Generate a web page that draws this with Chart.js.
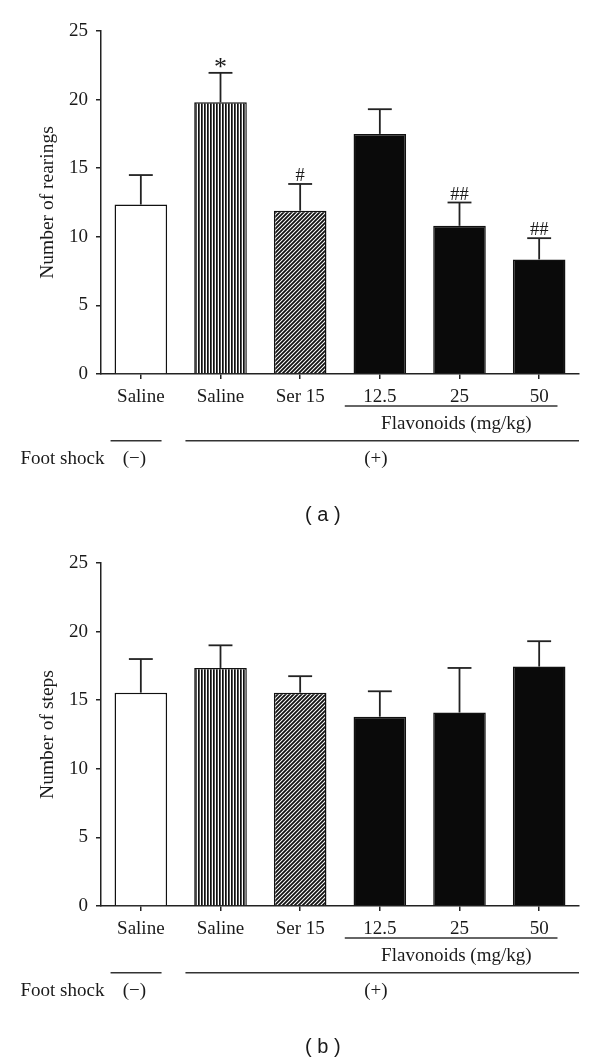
<!DOCTYPE html>
<html>
<head>
<meta charset="utf-8">
<script src="https://cdn.jsdelivr.net/npm/chart.js@4.4.0/dist/chart.umd.min.js"></script>
<style>
  body { margin: 0; background: #fff; }
  canvas { display: block; }
</style>
</head>
<body>
<canvas id="chartA" width="600" height="532"></canvas>
<canvas id="chartB" width="600" height="532"></canvas>
<script>
const categories = ['Saline', 'Saline', 'Ser 15', '12.5', '25', '50'];
const rearingMeans = [12.35, 19.8, 11.9, 17.5, 10.8, 8.35];
const rearingSem = [2.15, 2.15, 1.95, 1.8, 1.7, 1.55];
const rearingMarks = ['', '*', '#', '', '##', '##'];
const stepMeans = [15.55, 17.35, 15.55, 13.8, 14.1, 17.45];
const stepSem = [2.45, 1.65, 1.2, 1.85, 3.25, 1.85];
const stepMarks = ['', '', '', '', '', ''];
const yMax = 25;
const yStep = 5;

const SERIF = '"Liberation Serif", "DejaVu Serif", serif';
const INK = '#1a1a1a';

function stripePattern() {
    const c = document.createElement('canvas');
    c.width = 3; c.height = 4;
    const g = c.getContext('2d');
    g.fillStyle = '#fff'; g.fillRect(0, 0, 3, 4);
    g.fillStyle = '#111'; g.fillRect(0, 0, 1, 4);
    g.fillStyle = '#555'; g.fillRect(1, 0, 1, 4);
    return g.createPattern(c, 'repeat');
}

function hatchPattern() {
    const s = 4;
    const c = document.createElement('canvas');
    c.width = s; c.height = s;
    const g = c.getContext('2d');
    g.fillStyle = '#fff'; g.fillRect(0, 0, s, s);
    g.strokeStyle = '#111'; g.lineWidth = 1.8;
    g.beginPath();
    g.moveTo(0, s); g.lineTo(s, 0);
    g.moveTo(-1, 1); g.lineTo(1, -1);
    g.moveTo(s - 1, s + 1); g.lineTo(s + 1, s - 1);
    g.stroke();
    return g.createPattern(c, 'repeat');
}

function hline(ctx, x1, x2, y) {
    ctx.beginPath(); ctx.moveTo(x1, y); ctx.lineTo(x2, y); ctx.stroke();
}

const decor = {
    id: 'decor',
    afterDatasetsDraw(chart, args, opts) {
        const ctx = chart.ctx;
        const x = chart.scales.x, y = chart.scales.y;
        const bars = chart.getDatasetMeta(0).data;
        const w = x.getPixelForValue(1) - x.getPixelForValue(0);
        ctx.save();
        ctx.strokeStyle = '#222';
        ctx.lineWidth = 1.8;
        ctx.fillStyle = INK;
        ctx.textAlign = 'center';
        ctx.textBaseline = 'alphabetic';
        bars.forEach((bar, i) => {
            const top = y.getPixelForValue(opts.means[i] + opts.sem[i]);
            ctx.beginPath();
            ctx.moveTo(bar.x, bar.y);
            ctx.lineTo(bar.x, top);
            ctx.stroke();
            hline(ctx, bar.x - w * 0.15, bar.x + w * 0.15, top);
            const mark = opts.marks[i];
            if (mark) {
                ctx.font = (mark === '*' ? '26px ' : '18.5px ') + SERIF;
                const m = ctx.measureText(mark);
                const cy = top - 9.5;
                ctx.fillText(mark, bar.x, cy + (m.actualBoundingBoxAscent - m.actualBoundingBoxDescent) / 2);
            }
        });
        ctx.restore();
    },
    afterDraw(chart, args, opts) {
        const ctx = chart.ctx;
        const x = chart.scales.x, y = chart.scales.y;
        const w = x.getPixelForValue(1) - x.getPixelForValue(0);
        const c = i => x.getPixelForValue(i);
        const zero = y.getPixelForValue(0);
        ctx.save();
        ctx.strokeStyle = '#333';
        ctx.lineWidth = 1.5;
        ctx.fillStyle = INK;
        ctx.font = '19px ' + SERIF;
        ctx.textBaseline = 'middle';

        hline(ctx, c(3) - 0.44 * w, c(5) + 0.23 * w, zero + 32);
        ctx.textAlign = 'center';
        ctx.fillText('Flavonoids (mg/kg)', c(4) - 0.04 * w, zero + 50);

        hline(ctx, c(0) - 0.38 * w, c(0) + 0.26 * w, zero + 66.7);
        hline(ctx, c(1) - 0.44 * w, chart.chartArea.right, zero + 66.7);

        ctx.textAlign = 'left';
        ctx.fillText('Foot shock', 20.5, zero + 85);
        ctx.textAlign = 'center';
        ctx.fillText('(\u2212)', c(0) - 0.08 * w, zero + 85);
        ctx.fillText('(+)', c(3) - 0.05 * w, zero + 85);

        ctx.font = '20px "Liberation Sans", Arial, sans-serif';
        ctx.fillText(opts.panel, chart.width * 0.538, zero + 141.5);
        ctx.restore();
    }
};

function makeChart(id, means, sem, marks, title, panel) {
    const ctx = document.getElementById(id).getContext('2d');
    return new Chart(ctx, {
        type: 'bar',
        data: {
            labels: categories,
            datasets: [{
                data: means,
                backgroundColor: ['#fff', stripePattern(), hatchPattern(), '#0a0a0a', '#0a0a0a', '#0a0a0a'],
                borderColor: '#111',
                borderWidth: 1.5,
                barPercentage: 0.66,
                categoryPercentage: 1
            }]
        },
        options: {
            responsive: false,
            animation: false,
            layout: { padding: { top: 31, right: 21, left: 0, bottom: 0 } },
            plugins: {
                legend: { display: false },
                tooltip: { enabled: false },
                decor: { means: means, sem: sem, marks: marks, panel: panel }
            },
            scales: {
                x: {
                    afterFit(s) { s.height = 158; },
                    grid: { display: true, drawOnChartArea: false, offset: false, tickLength: 5, color: '#222', lineWidth: 1.5 },
                    border: { display: true, color: '#222', width: 1.5 },
                    ticks: { color: INK, padding: 7, font: { family: SERIF, size: 19 } }
                },
                y: {
                    min: 0,
                    max: yMax,
                    afterFit(s) { s.width = 101; },
                    grid: { display: true, drawOnChartArea: false, tickLength: 5, color: '#222', lineWidth: 1.5 },
                    border: { display: true, color: '#222', width: 1.5 },
                    ticks: { stepSize: yStep, color: INK, padding: 8, font: { family: SERIF, size: 19 } },
                    title: { display: true, text: title, color: INK, padding: { top: 36, bottom: 0 }, font: { family: SERIF, size: 19.5 } }
                }
            }
        },
        plugins: [decor]
    });
}

makeChart('chartA', rearingMeans, rearingSem, rearingMarks, 'Number of rearings', '( a )');
makeChart('chartB', stepMeans, stepSem, stepMarks, 'Number of steps', '( b )');
</script>
</body>
</html>
